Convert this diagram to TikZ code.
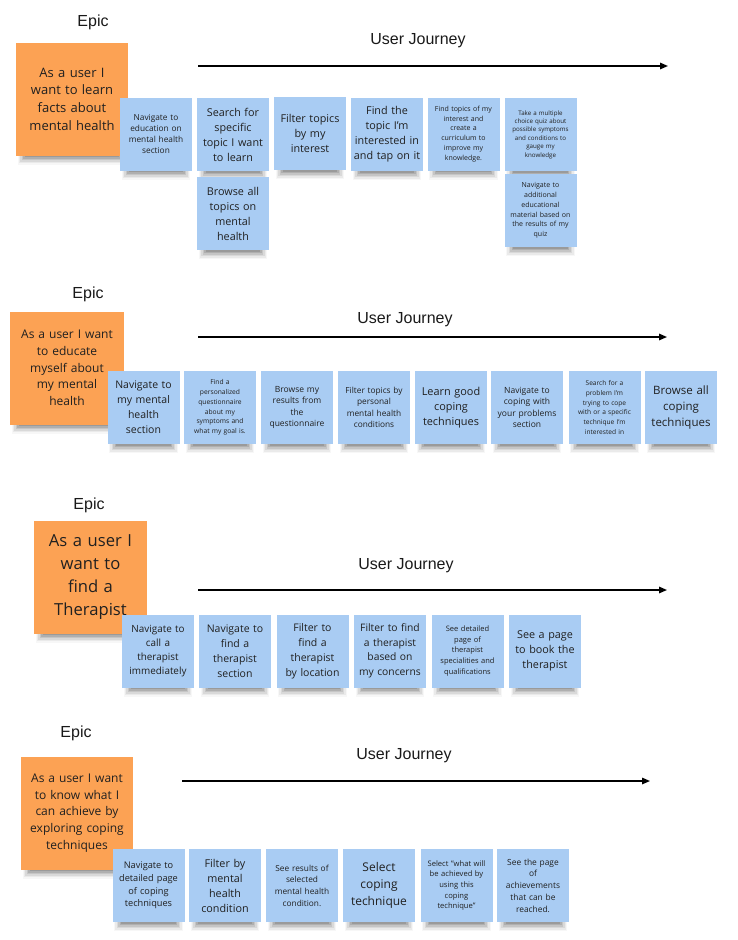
\documentclass[tikz,border=0pt]{standalone}
\usepackage{fontspec}
\setmainfont{Open Sans}
\newfontfamily\titlefont{Liberation Sans}
\usetikzlibrary{arrows.meta}
\pgfdeclarelayer{shadowlayer}
\pgfsetlayers{shadowlayer,main}
\definecolor{noteblue}{HTML}{A9CCF3}
\definecolor{noteorange}{HTML}{FCA254}
\definecolor{notetext}{HTML}{202020}
\newcommand{\fs}[2]{\fontsize{#1}{#2}\selectfont}
\newcommand{\shadlayer}[4]{% node, inset, depth, opacity
  \fill[black,opacity=#4] ([xshift=#2pt,yshift=3pt]#1.south west) rectangle ([xshift=-#2pt,yshift=-#3pt]#1.south east);}
\newcommand{\shad}[1]{%
  \shadlayer{#1}{2}{9}{0.03}%
  \shadlayer{#1}{3}{7.5}{0.05}%
  \shadlayer{#1}{4.5}{6}{0.07}%
  \shadlayer{#1}{6}{4.5}{0.09}%
  \shadlayer{#1}{7.5}{3}{0.11}%
  \shadlayer{#1}{9}{1.5}{0.12}}
\tikzset{
  x=1pt, y=-1pt,
  sticky/.style={inner sep=0pt, align=center, text=notetext},
  bluenote/.style={sticky, fill=noteblue, minimum width=72pt, minimum height=73pt, text width=70pt},
  orangenote/.style={sticky, fill=noteorange, minimum width=#1pt, minimum height=113pt, text width=110pt},
  epictext/.style={font=\titlefont\fs{16}{19}, text=black!90},
  journeytext/.style={font=\titlefont\fs{16}{19}, text=black!90},
  journey/.style={line width=1.5pt, -{Triangle[length=8pt,width=6.5pt]}},
  big/.style={font=\fs{10.8}{15}},
  small/.style={font=\fs{7}{9.7}},
  tiny/.style={font=\fs{6.2}{8.4}},
}
\begin{document}
\begin{tikzpicture}
\useasboundingbox (0,0) rectangle (738,940);
% ---------------- Section 1
\node[epictext] (e1) at (93,22) {Epic};
\node[journeytext] (u1) at (418,41) {User Journey};
\coordinate (a1s) at (198,66); \coordinate (a1e) at (668,66);
\draw[journey] (a1s) -- (a1e);
\node[orangenote=112, font=\fs{13}{17.7}] (o1) at (72,99) {As a user I\\want to learn\\facts about\\mental health};
\node[bluenote, font=\fs{8.3}{11.3}] (n11) at (156,134) {Navigate to\\education on\\mental health\\section};
\node[bluenote, big] (n12) at (233,134.5) {Search for\\specific\\topic I want\\to learn};
\node[bluenote, big] (n12b) at (233,213.5) {Browse all\\topics on\\mental\\health};
\node[bluenote, big] (n13) at (310,133.5) {Filter topics\\by my\\interest};
\node[bluenote, big] (n14) at (387,134.5) {Find the\\topic I'm\\interested in\\and tap on it};
\node[bluenote, small] (n15) at (463.5,134) {Find topics of my\\interest and\\create a\\curriculum to\\improve my\\knowledge.};
\node[bluenote, tiny] (n16) at (540.5,134.5) {Take a multiple\\choice quiz about\\possible symptoms\\and conditions to\\gauge my\\knowledge};
\node[bluenote, small] (n17) at (540.5,210.5) {Navigate to\\additional\\educational\\material based on\\the results of my\\quiz};
% ---------------- Section 2
\node[epictext] (e2) at (88,294) {Epic};
\node[journeytext] (u2) at (405,320) {User Journey};
\coordinate (a2s) at (198,337); \coordinate (a2e) at (667,337);
\draw[journey] (a2s) -- (a2e);
\node[orangenote=114, font=\fs{12}{16.7}] (o2) at (67,368) {As a user I want\\to educate\\myself about\\my mental\\health};
\node[bluenote, font=\fs{10.5}{15}] (n21) at (143.5,407.5) {Navigate to\\my mental\\health\\section};
\node[bluenote, font=\fs{6.7}{9.7}] (n22) at (220,407.5) {Find a\\personalized\\questionnaire\\about my\\symptoms and\\what my goal is.};
\node[bluenote, font=\fs{8.5}{11.4}] (n23) at (297,407.5) {Browse my\\results from\\the\\questionnaire};
\node[bluenote, font=\fs{8.3}{11.3}] (n24) at (374,407.5) {Filter topics by\\personal\\mental health\\conditions};
\node[bluenote, font=\fs{10.9}{15}] (n25) at (451,407.5) {Learn good\\coping\\techniques};
\node[bluenote, font=\fs{8.5}{11.4}] (n26) at (527,407.5) {Navigate to\\coping with\\your problems\\section};
\node[bluenote, font=\fs{6.6}{9.7}] (n27) at (604.5,407.5) {Search for a\\problem I'm\\trying to cope\\with or a specific\\technique I'm\\interested in};
\node[bluenote, font=\fs{11.5}{15.7}] (n28) at (681,407.5) {Browse all\\coping\\techniques};
% ---------------- Section 3
\node[epictext] (e3) at (89,505) {Epic};
\node[journeytext] (u3) at (406,566) {User Journey};
\coordinate (a3s) at (198,590); \coordinate (a3e) at (667,590);
\draw[journey] (a3s) -- (a3e);
\node[orangenote=113, font=\fs{16.6}{23}] (o3) at (90.5,577) {As a user I\\want to\\find a\\Therapist};
\node[bluenote, font=\fs{9.9}{14}] (n31) at (158,651) {Navigate to\\call a\\therapist\\immediately};
\node[bluenote, font=\fs{10.5}{15}] (n32) at (235,651) {Navigate to\\find a\\therapist\\section};
\node[bluenote, font=\fs{10.5}{15}] (n33) at (312.5,651) {Filter to\\find a\\therapist\\by location};
\node[bluenote, font=\fs{10.3}{14.5}] (n34) at (390,651) {Filter to find\\a therapist\\based on\\my concerns};
\node[bluenote, font=\fs{7.5}{10.7}] (n35) at (467.5,651) {See detailed\\page of\\therapist\\specialities and\\qualifications};
\node[bluenote, font=\fs{10.8}{15}] (n36) at (545,651) {See a page\\to book the\\therapist};
% ---------------- Section 4
\node[epictext] (e4) at (76,733) {Epic};
\node[journeytext] (u4) at (404,756) {User Journey};
\coordinate (a4s) at (182,781); \coordinate (a4e) at (650,781);
\draw[journey] (a4s) -- (a4e);
\node[orangenote=112, font=\fs{12}{16.7}] (o4) at (77,813) {As a user I want\\to know what I\\can achieve by\\exploring coping\\techniques};
\node[bluenote, font=\fs{9.2}{12.8}] (n41) at (148.5,885.5) {Navigate to\\detailed page\\of coping\\techniques};
\node[bluenote, font=\fs{10.8}{15}] (n42) at (225,885.5) {Filter by\\mental\\health\\condition};
\node[bluenote, font=\fs{8.3}{11.7}] (n43) at (302,885.5) {See results of\\selected\\mental health\\condition.};
\node[bluenote, font=\fs{12}{17}] (n44) at (379,885.5) {Select\\coping\\technique};
\node[bluenote, font=\fs{7.6}{10.6}] (n45) at (456.5,885.5) {Select "what will\\be achieved by\\using this\\coping\\technique"};
\node[bluenote, font=\fs{8.4}{11.7}] (n46) at (533,885.5) {See the page\\of\\achievements\\that can be\\reached.};
% ---------------- shadows
\begin{pgfonlayer}{shadowlayer}
\foreach \n in {o1,n11,n12,n12b,n13,n14,n15,n16,n17,o2,n21,n22,n23,n24,n25,n26,n27,n28,o3,n31,n32,n33,n34,n35,n36,o4,n41,n42,n43,n44,n45,n46}{\shad{\n}}
\end{pgfonlayer}
\end{tikzpicture}
\end{document}
